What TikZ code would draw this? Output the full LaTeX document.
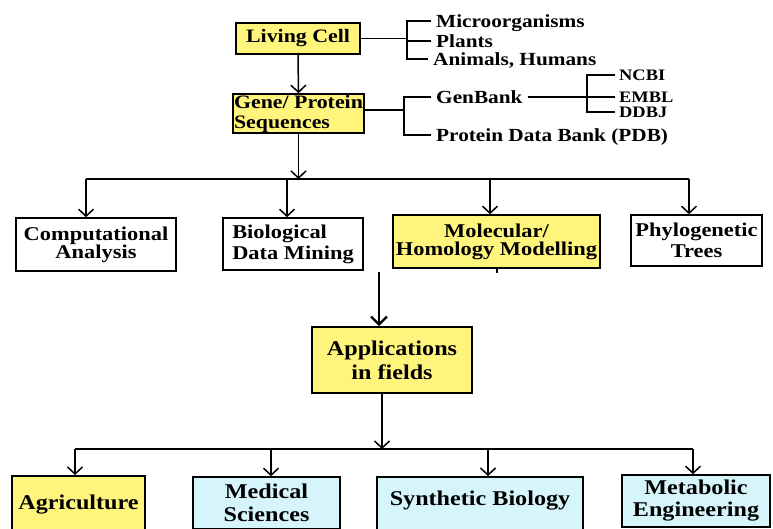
\documentclass[tikz,border=0pt]{standalone}
\usepackage{fontspec}
\newfontfamily\dfont{Liberation Serif}[FakeStretch=1.15]
\usetikzlibrary{arrows.meta}
\definecolor{ylw}{RGB}{255,245,125}
\definecolor{lblue}{RGB}{214,245,250}
\newcommand{\myfs}[2]{\dfont\bfseries\fontsize{#1}{#2}\selectfont}
\tikzset{
  box/.style={draw, line width=1.6pt, inner sep=0pt, align=center},
  conn/.style={line width=1.5pt},
  arr/.style={conn, -{Straight Barb[length=7pt,width=15pt]}},
  lst/.style={anchor=west, inner xsep=5pt, inner ysep=0pt, text height=12pt, text depth=0pt, font=\myfs{18.5}{20}},
  db/.style={anchor=west, inner xsep=4pt, inner ysep=0pt, text height=10.5pt, text depth=0pt, font=\myfs{16}{18}},
}
\begin{document}
\begin{tikzpicture}[x=1pt,y=-1pt]
\useasboundingbox (0,0) rectangle (773,528);
\clip (0,0) rectangle (773,528);
\fill[white] (0,0) rectangle (773,528);

% top boxes
\node[box, fill=ylw, minimum width=124pt, minimum height=31pt, font=\myfs{19}{20}] (living) at (298,38.5) {Living Cell};
\node[box, fill=ylw, minimum width=131pt, minimum height=39pt, align=left, font=\myfs{19}{20}] (gene) at (298.5,113.5) {Gene/ Protein\\Sequences};

% organism list
\node[lst] (micro) at (431,21) {Microorganisms};
\node[lst] (plants) at (431,41) {Plants};
\node[lst] (animals) at (428,59) {Animals, Humans};
\coordinate (br1) at (407,38.5);
\draw[conn] (living.east) -- (br1);
\draw[conn] (micro.west) -| (br1);
\draw[conn] (animals.west) -| (br1);
\draw[conn] (plants.west) -- (plants.west -| br1);

% databases
\node[lst] (genbank) at (431,97) {GenBank};
\node[lst] (pdb) at (431,135) {Protein Data Bank (PDB)};
\coordinate (br2) at (404,110);
\draw[conn] (gene.east |- br2) -- (br2);
\draw[conn] (genbank.west) -| (br2);
\draw[conn] (pdb.west) -| (br2);
\node[db] (ncbi) at (615,75) {NCBI};
\node[db] (embl) at (615,97) {EMBL};
\node[db] (ddbj) at (615,112) {DDBJ};
\coordinate (br3) at (587,97);
\draw[conn] (genbank.east) -- (br3);
\draw[conn] (ncbi.west) -| (br3);
\draw[conn] (ddbj.west) -| (br3);
\draw[conn] (embl.west) -- (br3);

\draw[arr] (living.south) -- (gene.north);

% middle row
\node[box, minimum width=160pt, minimum height=53pt, font=\myfs{19.5}{18}] (comp) at (96,244.5) {Computational\\Analysis};
\node[box, minimum width=140pt, minimum height=52pt, align=left, font=\myfs{19.5}{21}] (bio) at (293,244) {Biological\\Data Mining};
\node[box, fill=ylw, minimum width=207pt, minimum height=53pt, font=\myfs{19.5}{18}] (mol) at (496.5,241.5) {Molecular/\\Homology Modelling};
\node[box, minimum width=131pt, minimum height=51pt, font=\myfs{19.5}{21}] (phy) at (696.5,240.5) {Phylogenetic\\Trees};

\coordinate (bus1L) at (86,179);
\coordinate (bus1R) at (689,179);
\coordinate (d2) at (287,179);
\coordinate (d3) at (490,179);
\draw[arr] (gene.south) -- (gene.south |- bus1L);
\draw[conn] (bus1L) -- (bus1R);
\draw[arr] (bus1L) -- (bus1L |- comp.north);
\draw[arr] (d2) -- (d2 |- bio.north);
\draw[arr] (d3) -- (d3 |- mol.north);
\draw[arr] (bus1R) -- (bus1R |- phy.north);
\draw[line width=2pt] (mol.south) -- ++(0,4);

% applications
\node[box, fill=ylw, minimum width=160pt, minimum height=66pt, font=\myfs{21}{24}] (app) at (392,360) {Applications\\in fields};
\coordinate (m1) at (379,272);
\draw[line width=2.4pt, -{Straight Barb[length=8pt,width=16pt]}] (m1) -- (m1 |- app.north);

\coordinate (bus2L) at (75,449);
\coordinate (bus2R) at (693,449);
\coordinate (a1) at (382,449);
\coordinate (e2) at (271,449);
\coordinate (e3) at (488,449);
\draw[arr] (app.south -| a1) -- (a1);
\draw[conn] (bus2L) -- (bus2R);

% bottom row
\node[box, fill=ylw, anchor=north, minimum width=133pt, text height=34pt, text depth=30pt, font=\myfs{21}{24}] (agri) at (78.5,475) {Agriculture};
\node[box, fill=lblue, minimum width=147pt, minimum height=52pt, font=\myfs{21}{23}] (med) at (266.5,503) {Medical\\Sciences};
\node[box, fill=lblue, anchor=north, minimum width=206pt, text height=29pt, text depth=30pt, font=\myfs{21}{24}] (syn) at (480,476) {Synthetic Biology};
\node[box, fill=lblue, minimum width=148pt, minimum height=52pt, font=\myfs{21}{22}] (meta) at (696,501) {Metabolic\\Engineering};

\draw[arr] (bus2L) -- (bus2L |- agri.north);
\draw[arr] (e2) -- (e2 |- med.north);
\draw[arr] (e3) -- (e3 |- syn.north);
\draw[arr] (bus2R) -- (bus2R |- meta.north);
\end{tikzpicture}
\end{document}
